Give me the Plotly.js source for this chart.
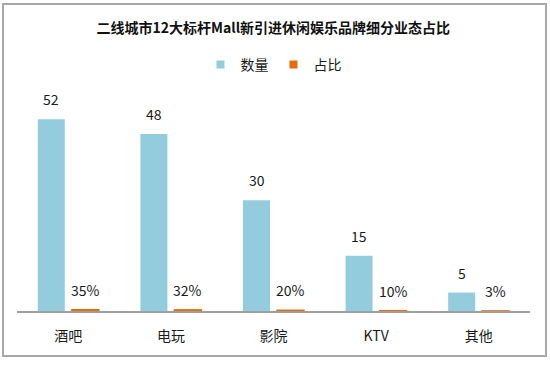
<!DOCTYPE html>
<html>
<head>
<meta charset="utf-8">
<script src="https://cdn.plot.ly/plotly-3.0.1.min.js"></script>
<style>
  html, body { margin: 0; padding: 0; background: #fff; }
  #wrap { position: relative; width: 550px; height: 381px; }
  #chart { position: absolute; left: 0; top: 0; width: 550px; height: 381px; }
  #frame { position: absolute; left: 2px; top: 3px; width: 541px; height: 350px;
           border: 2px solid #a8a8a8; pointer-events: none; }
</style>
</head>
<body>
<div id="wrap">
  <div id="chart"></div>
  <div id="frame"></div>
</div>
<script>
const categories = ["酒吧", "电玩", "影院", "KTV", "其他"];
const countValues = [52, 48, 30, 15, 5];
const shareValues = [0.35, 0.32, 0.20, 0.10, 0.03];
const seriesNames = ["数量", "占比"];
const titleText = "二线城市12大标杆Mall新引进休闲娱乐品牌细分业态占比";

const FONT = '"Noto Sans CJK SC", "Noto Sans", sans-serif';
const BLUE = "#93CDDD";
const ORANGE = "#E46C0A";

const traces = [
  {
    type: "bar", name: seriesNames[0], x: categories, y: countValues,
    marker: { color: BLUE, line: { width: 0 } },
    showlegend: false, legendgroup: "a", hoverinfo: "none"
  },
  {
    type: "bar", name: seriesNames[1], x: categories, y: shareValues,
    marker: { color: ORANGE, line: { color: ORANGE, width: 1.4 } },
    showlegend: false, legendgroup: "b", hoverinfo: "none"
  },
  {
    type: "scatter", mode: "markers", name: seriesNames[0], x: [null], y: [null],
    marker: { symbol: "square", size: 8, color: BLUE },
    legendgroup: "a", hoverinfo: "none"
  },
  {
    type: "scatter", mode: "markers", name: seriesNames[1], x: [null], y: [null],
    marker: { symbol: "square", size: 8, color: ORANGE },
    legendgroup: "b", hoverinfo: "none"
  }
];

const annotations = [];
categories.forEach((c, i) => {
  annotations.push({
    x: c, y: countValues[i], xref: "x", yref: "y",
    text: String(countValues[i]), showarrow: false,
    xanchor: "center", yanchor: "bottom", xshift: -17, yshift: 8,
    font: { family: FONT, size: 14, color: "#1a1a1a" }
  });
  annotations.push({
    x: c, y: shareValues[i], xref: "x", yref: "y",
    text: Math.round(shareValues[i] * 100) + "%", showarrow: false,
    xanchor: "center", yanchor: "bottom", xshift: 17, yshift: 8,
    font: { family: FONT, size: 14, color: "#1a1a1a" }
  });
});

const layout = {
  width: 550, height: 381,
  margin: { l: 17, r: 20, t: 100, b: 70, pad: 0 },
  paper_bgcolor: "#ffffff", plot_bgcolor: "#ffffff",
  font: { family: FONT, size: 14, color: "#1a1a1a" },
  title: {
    text: "<b>" + titleText + "</b>",
    x: 0.497, xanchor: "center", y: 1 - 28 / 381, yanchor: "middle",
    font: { family: FONT, size: 14, color: "#111" }
  },
  showlegend: true,
  legend: {
    orientation: "h", x: 0.5, xanchor: "center", y: 1 + 35 / 211, yanchor: "middle",
    font: { family: FONT, size: 14, color: "#1a1a1a" },
    itemwidth: 30, tracegroupgap: 0, traceorder: "normal"
  },
  barmode: "group", bargap: 0.337, bargroupgap: 0.206,
  xaxis: {
    type: "category", showgrid: false, zeroline: false,
    showline: true, linecolor: "#a0a0a0", linewidth: 1.5,
    ticks: "", ticklabelstandoff: 12,
    tickfont: { family: FONT, size: 14, color: "#1a1a1a" },
    fixedrange: true
  },
  yaxis: {
    range: [0, 57.2], showgrid: false, zeroline: false, showline: false,
    showticklabels: false, ticks: "", fixedrange: true
  },
  annotations: annotations
};

Plotly.newPlot("chart", traces, layout, { displayModeBar: false, staticPlot: true });
</script>
</body>
</html>
